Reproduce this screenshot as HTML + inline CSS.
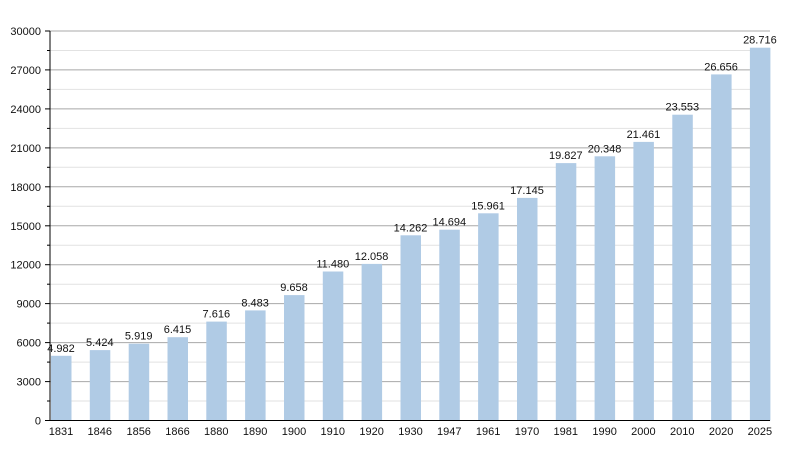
<!DOCTYPE html><html><head><style>body{margin:0;background:#fff}svg text{font-family:"Liberation Sans",sans-serif;font-size:11px;fill:#111}</style></head><body>
<svg width="800" height="450" xmlns="http://www.w3.org/2000/svg">
<g id="g"></g>
</svg>
<script>
const d=[[1831,4982],[1846,5424],[1856,5919],[1866,6415],[1880,7616],[1890,8483],[1900,9658],[1910,11480],[1920,12058],[1930,14262],[1947,14694],[1961,15961],[1970,17145],[1981,19827],[1990,20348],[2000,21461],[2010,23553],[2020,26656],[2025,28716]];
const y0=420.5,k=389.5/30000;let s='';
for(let v=1500;v<=30000;v+=1500){const y=(y0-v*k).toFixed(1);const maj=v%3000==0;
s+=`<line x1="50" x2="770" y1="${y}" y2="${y}" stroke="${maj?'#a8a8a8':'#e2e2e2'}" stroke-width="1"/>`;
s+=`<line x1="${maj?45:47}" x2="50" y1="${y}" y2="${y}" stroke="#000"/>`;}
for(let v=0;v<=30000;v+=3000){s+=`<text x="41" y="${(y0-v*k+4).toFixed(1)}" text-anchor="end">${v}</text>`;}
d.forEach((e,i)=>{const x=51+i*38.83,h=e[1]*k;
s+=`<rect x="${x.toFixed(1)}" y="${(y0-h).toFixed(1)}" width="20.5" height="${h.toFixed(1)}" fill="#b0cbe5"/>`;
s+=`<text x="${(x+10).toFixed(1)}" y="${(y0-h-4).toFixed(1)}" text-anchor="middle">${String(e[1]).replace(/(\d)(\d{3})$/,'$1.$2')}</text>`;
s+=`<text x="${(x+10).toFixed(1)}" y="435" text-anchor="middle">${e[0]}</text>`;});
s+=`<line x1="50" x2="50" y1="31" y2="421" stroke="#000"/><line x1="45" x2="770" y1="420.5" y2="420.5" stroke="#000"/>`;
document.getElementById('g').innerHTML=s;
</script>
</body></html>
